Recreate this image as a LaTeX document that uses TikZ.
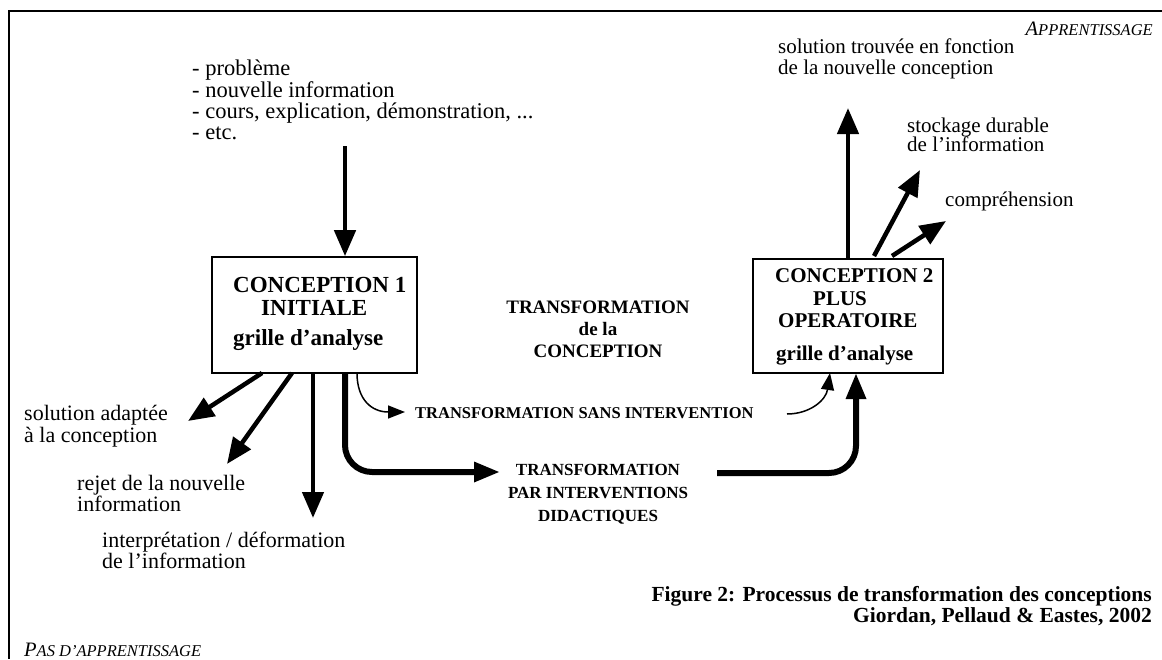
\documentclass[tikz,border=0pt]{standalone}
\usepackage{fontspec}
\setmainfont{Liberation Serif}
\usetikzlibrary{arrows.meta}
\newcommand{\fsz}[1]{\fontsize{#1}{#1}\selectfont}
\tikzset{
  txt/.style={inner sep=0pt, anchor=base west, font=\fsz{22}},
  rtxt/.style={inner sep=0pt, anchor=base west, font=\fsz{21}},
  lst/.style={inner sep=0pt, anchor=base west, font=\fsz{22.5}},
  bx/.style={inner sep=0pt, anchor=base west, font=\fsz{23}\bfseries},
  bxr/.style={inner sep=0pt, anchor=base west, font=\fsz{21}\bfseries},
  mid/.style={inner sep=0pt, anchor=base, font=\fsz{19}\bfseries},
  tr/.style={inner sep=0pt, anchor=base, font=\fsz{17}\bfseries},
  captxt/.style={inner sep=0pt, anchor=base east, font=\fsz{21.5}\bfseries},
  corner/.style={inner sep=0pt, font=\itshape},
  box/.style={draw, line width=1.6pt, inner sep=0pt},
  bigarr/.style={line width=4.5pt, -{Triangle[length=26pt,width=21pt]}},
  thickpath/.style={line width=6pt, rounded corners=27pt, -{Triangle[length=26pt,width=19pt]}},
  thinarr/.style={line width=1.5pt, -{Triangle[length=17pt,width=13pt]}},
}
\begin{document}
\begin{tikzpicture}[x=1pt,y=-1pt]
\useasboundingbox (0,0) rectangle (1162,659);
% frame
\coordinate (ftl) at (9,11);
\coordinate (ftr) at (1162,11);
\coordinate (fbl) at (9,659);
\draw[line width=2pt] (ftr) -- (ftl) -- (fbl);

% corner labels
\node[corner, anchor=base east] (app) at (1153,35) {\fsz{20.5}A\fsz{16.5}PPRENTISSAGE};
\node[corner, anchor=base west] (papp) at (24,656) {\fsz{20.5}P\fsz{16.5}AS D’APPRENTISSAGE};

% top list
\node[lst] (l1) at (192,75) {- problème};
\node[lst] (l2) at (192,97) {- nouvelle information};
\node[lst] (l3) at (192,118) {- cours, explication, démonstration, ...};
\node[lst] (l4) at (192,139) {- etc.};
\coordinate (din) at (345,146);

% boxes
\node[box, minimum width=205pt, minimum height=116pt] (c1) at (314.5,315) {};
\node[bx] (c1a) at (233,292) {CONCEPTION 1};
\node[bx] (c1b) at (261,315) {INITIALE};
\node[bx] (c1c) at (233,345) {grille d’analyse};

\node[box, minimum width=190pt, minimum height=114pt] (c2) at (848,316) {};
\node[bxr] (c2a) at (775,282) {CONCEPTION 2};
\node[bxr] (c2b) at (813,305) {PLUS};
\node[bxr] (c2c) at (778,327) {OPERATOIRE};
\node[bxr] (c2d) at (776,360) {grille d’analyse};

% middle title
\node[mid] (m1) at (598,313) {TRANSFORMATION};
\node[mid] (m2) at (598,335) {de la};
\node[mid] (m3) at (598,357) {CONCEPTION};

% transformations
\node[inner sep=0pt, anchor=base west, font=\fsz{16.5}\bfseries] (tsans) at (415,418) {TRANSFORMATION SANS INTERVENTION};
\node[tr] (tp1) at (598,475) {TRANSFORMATION};
\node[tr] (tp2) at (598,498) {PAR INTERVENTIONS};
\node[tr] (tp3) at (598,521) {DIDACTIQUES};

% left outputs
\node[txt] (s1) at (24,420) {solution adaptée};
\node[txt] (s2) at (24,442) {à la conception};
\node[txt] (r1) at (77,490) {rejet de la nouvelle};
\node[txt] (r2) at (77,511) {information};
\node[txt] (i1) at (102,547) {interprétation / déformation};
\node[txt] (i2) at (102,568) {de l’information};

% right outputs
\node[rtxt] (o1) at (778,53) {solution trouvée en fonction};
\node[rtxt] (o2) at (778,74) {de la nouvelle conception};
\node[rtxt] (k1) at (907,132) {stockage durable};
\node[rtxt] (k2) at (907,151) {de l’information};
\node[rtxt] (cp) at (945,206) {compréhension};

% caption
\node[captxt] (f1) at (1152,601) {Figure 2: Processus de transformation des conceptions};
\node[captxt] (f2) at (1152,622) {Giordan, Pellaud \& Eastes, 2002};

% arrows
\draw[bigarr] (din) -- (c1.north -| din);
\coordinate (a1s) at (262,373); \coordinate (a1e) at (188,421);
\coordinate (a2s) at (292,373); \coordinate (a2e) at (227,464);
\coordinate (a3s) at (313,373); \coordinate (a3e) at (313,518);
\draw[bigarr] (a1s) -- (a1e);
\draw[bigarr] (a2s) -- (a2e);
\draw[bigarr] (a3s) -- (a3e);

\coordinate (t1s) at (357,373); \coordinate (t1e) at (405,412);
\draw[thinarr] (t1s) .. controls (357,400) and (372,412) .. (t1e);

\coordinate (p1s) at (345,373); \coordinate (p1c) at (345,472); \coordinate (p1e) at (500,472);
\draw[thickpath] (p1s) -- (p1c) -- (p1e);

\coordinate (p2s) at (717,473); \coordinate (p2c) at (856,473); \coordinate (p2e) at (856,373);
\draw[thickpath] (p2s) -- (p2c) -- (p2e);

\coordinate (t2s) at (787,414); \coordinate (t2e) at (830,373);
\draw[thinarr] (t2s) .. controls (810,414) and (826,400) .. (t2e);

\coordinate (u1s) at (848,258); \coordinate (u1e) at (848,108);
\coordinate (u2s) at (874,256); \coordinate (u2e) at (920,170);
\coordinate (u3s) at (892,256); \coordinate (u3e) at (946,221);
\draw[bigarr] (u1s) -- (u1e);
\draw[bigarr] (u2s) -- (u2e);
\draw[bigarr] (u3s) -- (u3e);
\end{tikzpicture}
\end{document}
